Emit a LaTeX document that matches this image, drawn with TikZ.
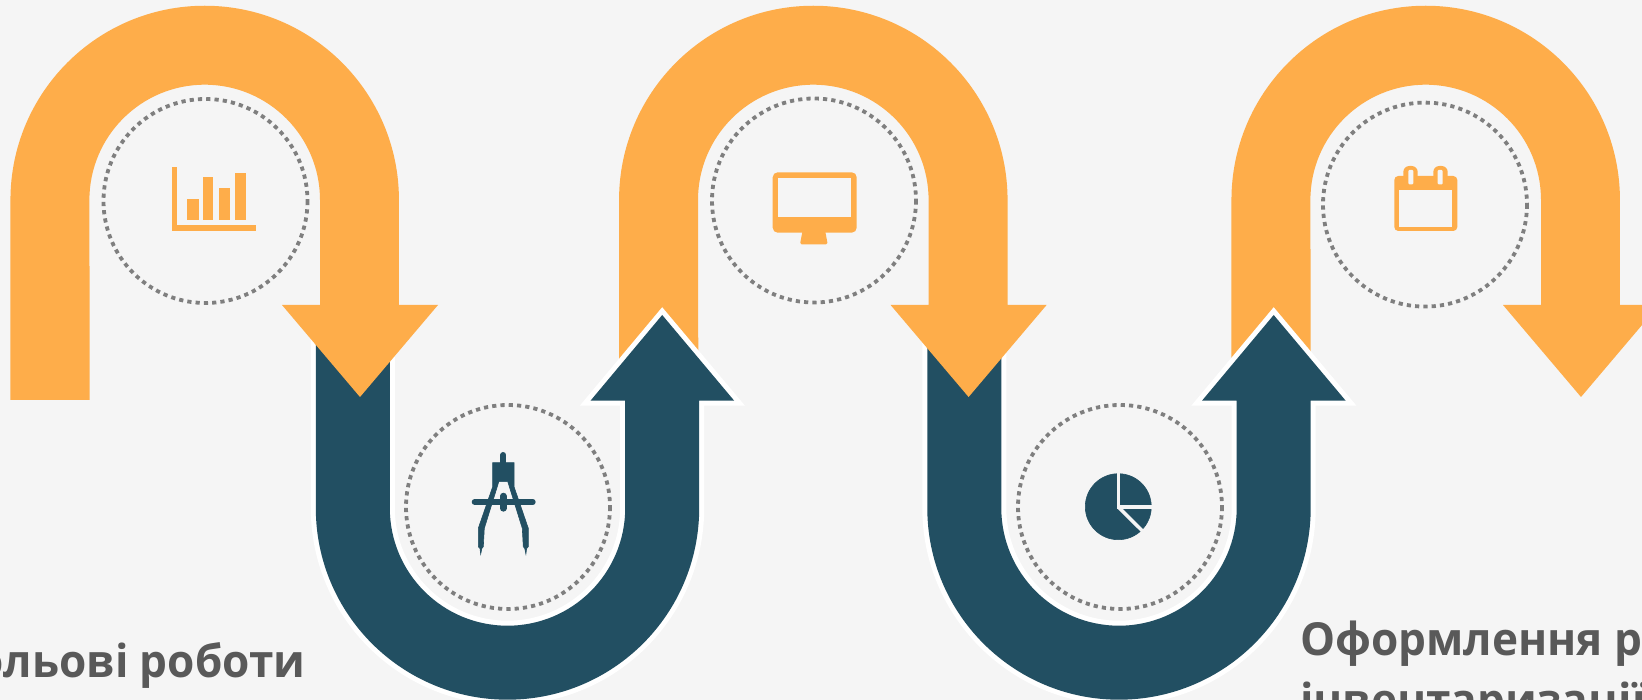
\documentclass[tikz,border=0pt]{standalone}
\usepackage{fontspec}
\setmainfont[FakeStretch=0.97]{Open Sans}
\definecolor{bgc}{HTML}{F5F5F5}
\definecolor{orangec}{HTML}{FEAD4A}
\definecolor{navyc}{HTML}{224F62}
\definecolor{dotc}{HTML}{7F7F7F}
\definecolor{textc}{HTML}{595959}
\tikzset{
  orangearrow/.style={fill=orangec},
  navyarrow/.style={fill=navyc,preaction={draw=white,line width=10pt,line join=miter,miter limit=4}},
  dotring/.style={draw=dotc,line width=3.8pt,dash pattern=on 4.2pt off 4.1pt},
  orangeicon/.style={fill=orangec},
  navyicon/.style={fill=navyc,draw=navyc,line width=0.6pt},
  navybar/.style={draw=navyc,line cap=round},
  gap/.style={draw=bgc,line width=3.5pt},
  caption/.style={text=textc,font=\fontsize{45.5}{54}\selectfont\bfseries,inner sep=0pt}
}
\newcommand{\orangepath}[2]{%
  \path[orangearrow] ({#1-194.25},200) arc[start angle=180,end angle=360,radius=194.25]
    -- ({#1+194.25},305) -- ({#1+233.3},305) -- ({#1+155.3},397) -- ({#1+77.3},305)
    -- ({#1+115.3},305) -- ({#1+115.3},200) arc[start angle=360,end angle=180,radius=115.3]
    -- ({#1-115},#2) -- ({#1-194.25},#2) -- cycle;}
\newcommand{\navypath}[1]{%
  \path[navyarrow] ({#1-191.7},335) -- ({#1-191.7},508) arc[start angle=180,end angle=0,radius=191.7]
    -- ({#1+191.7},400.7) -- ({#1+226.7},400.7) -- ({#1+154.7},315) -- ({#1+83},400.7)
    -- ({#1+117.7},400.7) -- ({#1+117.7},508) arc[start angle=0,end angle=180,radius=117.7]
    -- ({#1-117.7},335) -- cycle;}
\begin{document}
\begin{tikzpicture}[x=1pt,y=-1pt]
\useasboundingbox (0,0) rectangle (1642,700);
\clip (0,0) rectangle (1642,700);
\fill[bgc] (0,0) rectangle (1642,700);
% arrows, back to front
\orangepath{1425.7}{370}
\navypath{1119}
\orangepath{813.3}{370}
\navypath{507.5}
\orangepath{204.7}{400}
% dotted rings
\draw[dotring] (205.5,201) circle[radius=102];
\draw[dotring] (508,507) circle[radius=102];
\draw[dotring] (814,200.5) circle[radius=102];
\draw[dotring] (1120,507) circle[radius=102];
\draw[dotring] (1425,204.6) circle[radius=102];
% bar chart icon
\path[orangeicon] (172,167.3) rectangle (177,230.7);
\path[orangeicon] (172,224.7) rectangle (256,230.7);
\path[orangeicon] (187.3,199.3) rectangle (198.7,220);
\path[orangeicon] (203.3,177.3) rectangle (213.3,220);
\path[orangeicon] (219.3,188) rectangle (230,220);
\path[orangeicon] (235,173.3) rectangle (245.7,220);
% compass icon
\path[navyicon] (492.7,462.7) -- (514,462.7) -- (514,486.7) -- (528.3,528.3) -- (528.3,546.7)
  -- (526.6,548.5) -- (525.9,554) -- (524.8,548.5) -- (523.3,546.7) -- (522.3,528.3) -- (507.8,481.7)
  -- (498.8,481.7) -- (484.3,528.3) -- (483.3,546.7) -- (481.8,548.5) -- (480.7,554) -- (480,548.5)
  -- (478.3,546.7) -- (478.3,528.3) -- (492.7,486.7) -- cycle;
\draw[navybar,line width=6pt] (503.3,455) -- (503.3,464);
\draw[navybar,line width=6pt] (474.7,502) -- (532.7,502);
\draw[navybar,line width=6.5pt] (503.3,496) -- (503.3,508.4);
% monitor icon
\path[orangeicon,rounded corners=5pt] (772.7,172.3) rectangle (856.7,232.7);
\path[fill=bgc] (778.3,178.3) rectangle (851,216.7);
\path[orangeicon,rounded corners=1.5pt] (802.7,230) -- (825,230) -- (827.7,244.3) -- (800,244.3) -- cycle;
% pie icon
\path[navyicon] (1118.3,506.7) circle[radius=33];
\draw[gap] (1118.3,470) -- (1118.3,507);
\draw[gap] (1117,507) -- (1155,507);
\draw[gap] (1118.3,507) -- (1143,531.5);
% calendar icon
\path[orangeicon,rounded corners=4pt] (1394.3,176) rectangle (1457.3,231);
\path[orangeicon,rounded corners=6pt] (1403.3,166) rectangle (1417.7,186);
\path[orangeicon,rounded corners=6pt] (1433.3,166) rectangle (1447.7,186);
\path[fill=bgc] (1399,190) rectangle (1452.3,226.7);
\path[fill=bgc,rounded corners=1pt] (1408.3,170) rectangle (1413.3,184.3);
\path[fill=bgc,rounded corners=1pt] (1437.7,170) rectangle (1442.7,184.3);
% captions
\node[caption,anchor=base east] (capa) at (306,677) {ольові роботи};
\node[caption,anchor=base west] (capb) at (1300,655) {Оформлення р};
\node[caption,anchor=base west] (capc) at (1300,716) {інвентаризації};
\end{tikzpicture}
\end{document}
